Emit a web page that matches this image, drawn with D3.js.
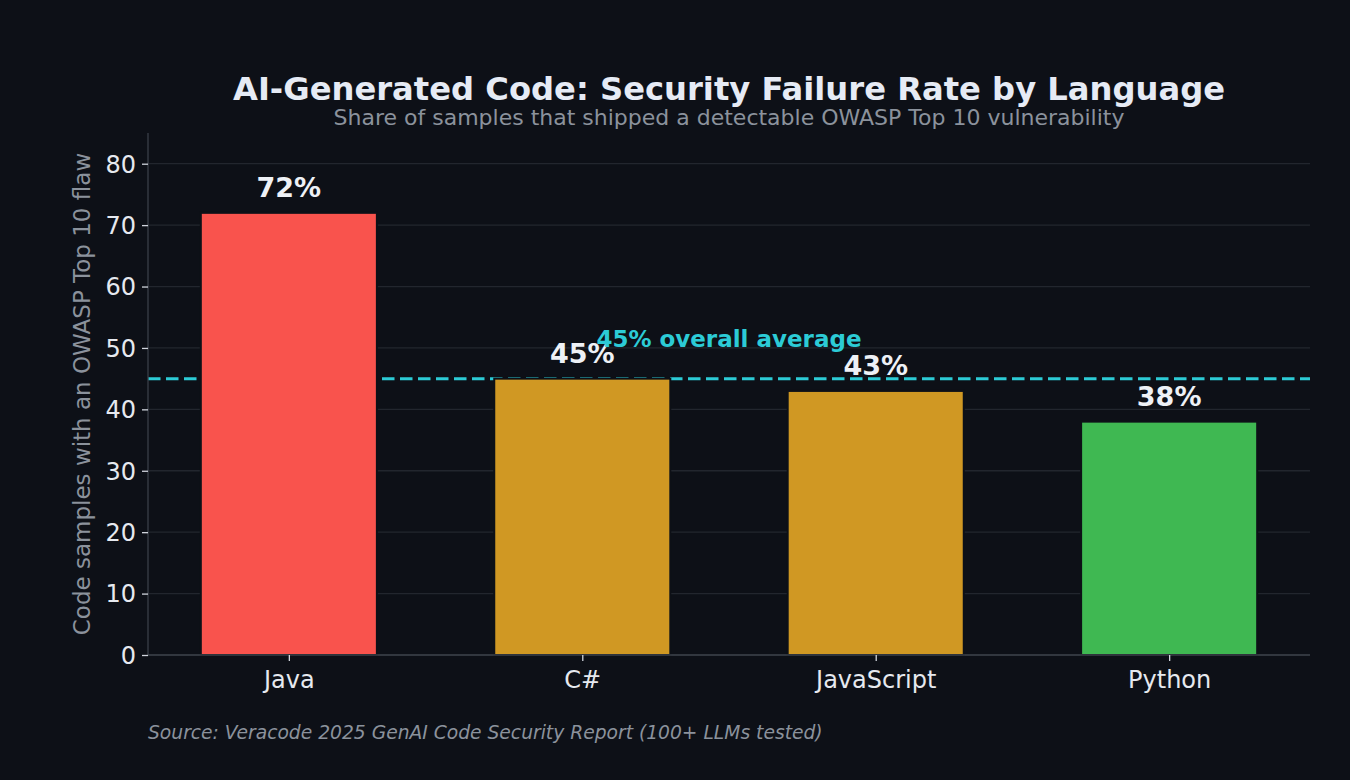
<!DOCTYPE html>
<html><head><meta charset="utf-8">
<script src="https://cdn.jsdelivr.net/npm/d3@7"></script>
<style>html,body{margin:0;padding:0;background:#0d1017;}svg{display:block;}</style>
</head><body>
<script>
const categories = ["Java", "C#", "JavaScript", "Python"];
const values = [72, 45, 43, 38];
const valueLabels = ["72%", "45%", "43%", "38%"];
const barColors = ["#f9534d", "#d09823", "#d09823", "#3fb852"];
const yTicks = [0, 10, 20, 30, 40, 50, 60, 70, 80];
const averageValue = 45;
const averageLabel = "45% overall average";
const titleText = "AI-Generated Code: Security Failure Rate by Language";
const subtitleText = "Share of samples that shipped a detectable OWASP Top 10 vulnerability";
const yLabelText = "Code samples with an OWASP Top 10 flaw";
const sourceText = "Source: Veracode 2025 GenAI Code Security Report (100+ LLMs tested)";

const W = 1350, H = 780;
const bg = "#0d1017";
const m = {left: 148, right: 1310, top: 133, bottom: 655};
const font = "'DejaVu Sans', sans-serif";

const svg = d3.select("body").append("svg").attr("width", W).attr("height", H);
svg.append("rect").attr("width", W).attr("height", H).attr("fill", bg);

const x = d3.scaleLinear().domain([-0.48, 3.48]).range([m.left, m.right]);
const y = d3.scaleLinear().domain([0, 85]).range([m.bottom, m.top]);
const barW = x(0.6) - x(0);

// grid
svg.append("g").selectAll("line").data(yTicks).join("line")
  .attr("x1", m.left).attr("x2", m.right)
  .attr("y1", d => y(d)).attr("y2", d => y(d))
  .attr("stroke", "#22262e").attr("stroke-width", 1.3);

// average line
svg.append("line")
  .attr("x1", m.left).attr("x2", m.right)
  .attr("y1", y(averageValue)).attr("y2", y(averageValue))
  .attr("stroke", "#2ccbd6").attr("stroke-width", 3)
  .attr("stroke-dasharray", "12.5,5.5");

// bars
svg.append("g").selectAll("rect").data(values).join("rect")
  .attr("x", (d, i) => x(i) - barW / 2)
  .attr("width", barW)
  .attr("y", d => y(d))
  .attr("height", d => y(0) - y(d))
  .attr("fill", (d, i) => barColors[i])
  .attr("stroke", bg).attr("stroke-width", 2);

// axes
const yAxis = d3.axisLeft(y).tickValues(yTicks).tickSize(6).tickPadding(6);
const gy = svg.append("g").attr("transform", `translate(${m.left},0)`).call(yAxis);
gy.select(".domain").attr("d", `M0,${m.top}V${m.bottom}`).attr("stroke", "#3a3f48").attr("stroke-width", 1.3);
gy.selectAll(".tick line").attr("stroke", "#d0d4dc").attr("stroke-width", 1.3);
gy.selectAll(".tick text").attr("fill", "#e6e9ef").style("font-family", font).style("font-size", "24px").attr("dy", "0.35em");

const xAxis = d3.axisBottom(x).tickValues(d3.range(categories.length)).tickFormat(i => categories[i]).tickSize(6).tickPadding(7);
const gx = svg.append("g").attr("transform", `translate(0,${m.bottom})`).call(xAxis);
gx.select(".domain").attr("d", `M${m.left},0H${m.right}`).attr("stroke", "#3a3f48").attr("stroke-width", 1.6);
gx.selectAll(".tick line").attr("stroke", "#d0d4dc").attr("stroke-width", 1.3);
gx.selectAll(".tick text").attr("fill", "#e6e9ef").style("font-family", font).style("font-size", "24px").attr("dy", "0.85em");

// value labels
svg.append("g").selectAll("text").data(values).join("text")
  .attr("x", (d, i) => x(i)).attr("y", d => y(d) - 16)
  .attr("text-anchor", "middle").attr("fill", "#eef1f6")
  .style("font-family", font).style("font-size", "27px").style("font-weight", "bold")
  .text((d, i) => valueLabels[i]);

// average label
svg.append("text")
  .attr("x", (m.left + m.right) / 2).attr("y", y(averageValue) - 32)
  .attr("text-anchor", "middle").attr("fill", "#2ccbd6")
  .style("font-family", font).style("font-size", "23px").style("font-weight", "bold")
  .text(averageLabel);

// titles
svg.append("text").attr("x", (m.left + m.right) / 2).attr("y", 100)
  .attr("text-anchor", "middle").attr("fill", "#e6ebf5")
  .style("font-family", font).style("font-size", "32.2px").style("font-weight", "bold")
  .text(titleText);
svg.append("text").attr("x", (m.left + m.right) / 2).attr("y", 125)
  .attr("text-anchor", "middle").attr("fill", "#8b929c")
  .style("font-family", font).style("font-size", "22px")
  .text(subtitleText);

// y label
svg.append("text")
  .attr("transform", `translate(90,${(m.top + m.bottom) / 2}) rotate(-90)`)
  .attr("text-anchor", "middle").attr("fill", "#8b929c")
  .style("font-family", font).style("font-size", "23px")
  .text(yLabelText);

// source
svg.append("text").attr("x", 148).attr("y", 739)
  .attr("fill", "#8b929c")
  .style("font-family", font).style("font-size", "18.7px").style("font-style", "italic")
  .text(sourceText);
</script>
</body></html>
